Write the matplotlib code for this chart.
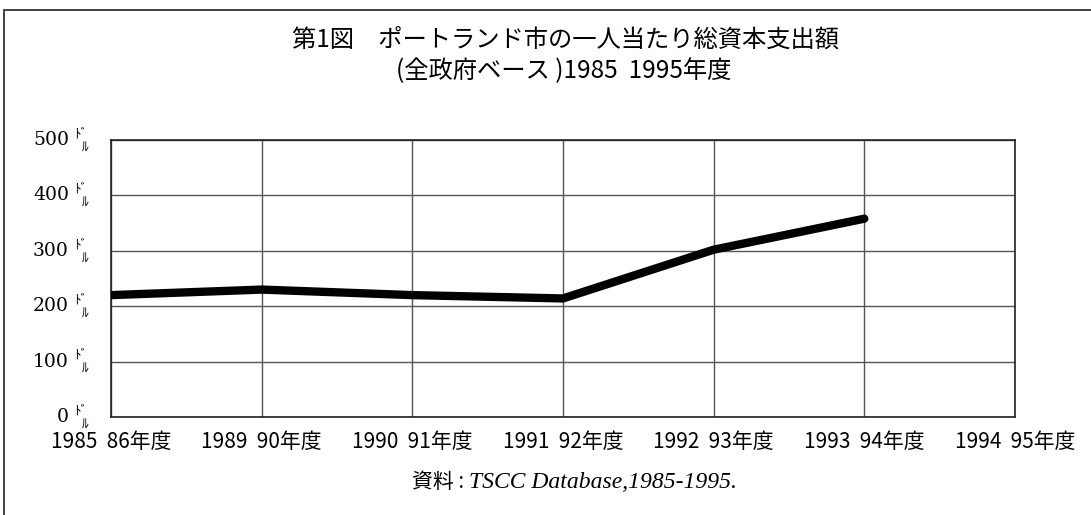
import matplotlib.pyplot as plt
from matplotlib.patches import Rectangle

# data
years = ['1985  86年度', '1989  90年度', '1990  91年度', '1991  92年度',
         '1992  93年度', '1993  94年度', '1994  95年度']
spend = [220, 230, 220, 214, 302, 358]
yticks = [0, 100, 200, 300, 400, 500]

jp = ['Noto Sans CJK JP', 'DejaVu Sans']
serif = ['DejaVu Serif', 'Liberation Serif']

fig = plt.figure(figsize=(10.91, 5.15), dpi=100)
ax = fig.add_axes([111 / 1091, 1 - 417 / 515, 904 / 1091, 277 / 515])

# outer frame of the chart area (cut at right and bottom)
fig.patches.append(Rectangle((4 / 1091, -0.05), 1.1, 1 - 10 / 515 + 0.05,
                             transform=fig.transFigure, fill=False,
                             edgecolor='#333333', linewidth=1.3))

ax.plot(range(len(spend)), spend, color='black', linewidth=6,
        solid_capstyle='round', solid_joinstyle='round', zorder=3)

ax.set_xlim(0, len(years) - 1)
ax.set_ylim(0, 500)
ax.set_xticks(range(len(years)))
ax.set_xticklabels(years, family=jp, fontsize=15)
ax.set_yticks(yticks)
ax.set_yticklabels([])
ax.tick_params(axis='both', length=0)
ax.tick_params(axis='x', pad=10)
ax.grid(True, color='#555555', linewidth=1)
for s in ax.spines.values():
    s.set_color('#222222')
    s.set_linewidth(1.2)

# y labels: number + small ﾄﾞﾙ
for v in yticks:
    ax.annotate(str(v), xy=(0, v), xycoords=('axes fraction', 'data'),
                xytext=(-42, 0), textcoords='offset pixels',
                ha='right', va='center', fontsize=13.5, family=serif)
    ax.annotate('ﾄﾞ', xy=(0, v), xycoords=('axes fraction', 'data'),
                xytext=(-37, 6), textcoords='offset pixels',
                ha='left', va='center', fontsize=9.5, family=jp)
    ax.annotate('ﾙ', xy=(0, v), xycoords=('axes fraction', 'data'),
                xytext=(-29, -7), textcoords='offset pixels',
                ha='left', va='center', fontsize=9.5, family=jp)

fig.text(566 / 1091, 1 - 40 / 515, '第1図\u3000ポートランド市の一人当たり総資本支出額',
         ha='center', va='center', fontsize=17.5, family=jp)
fig.text(564 / 1091, 1 - 71 / 515, '(全政府ベース )1985  1995年度',
         ha='center', va='center', fontsize=17.5, family=jp)

fig.text(464 / 1091, 1 - 482 / 515, '資料 :', ha='right', va='center',
         fontsize=15, family=jp)
fig.text(469 / 1091, 1 - 482 / 515, 'TSCC Database,1985-1995.', ha='left',
         va='center', fontsize=17, family=['Liberation Serif', 'DejaVu Serif'],
         style='italic')

fig.savefig('out.png', dpi=100)
